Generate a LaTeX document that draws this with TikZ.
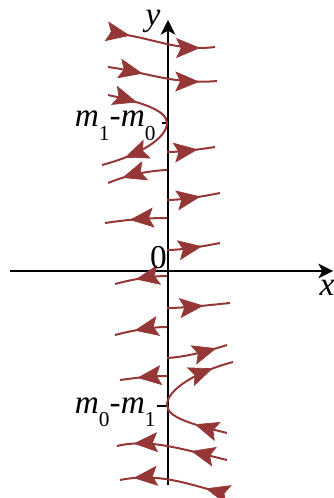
\documentclass[tikz,border=0pt]{standalone}
\usepackage{fontspec}
\setmainfont{Liberation Serif}
\usetikzlibrary{arrows.meta,decorations.markings}

\definecolor{flowred}{RGB}{150,55,55}
\tikzset{every picture/.style={line width=0.75pt}}
\tikzset{
  axistip/.tip={Stealth[length=11pt,width=11pt,inset=3pt]},
  flowline/.style={draw=flowred,fill=none,line width=1.5pt},
  arr/.style={postaction={decorate,decoration={markings,mark=at position #1 with {\arrow[flowred,line width=0.5pt]{Stealth[length=18pt,width=15pt,inset=3.5pt]}}}}},
  lbl/.style={inner sep=0pt,font=\fontsize{25}{28}\selectfont},
}
\newcommand{\sub}[1]{\raisebox{-10pt}{\fontsize{16}{18}\selectfont #1}}

\begin{document}
\begin{tikzpicture}[x=0.75pt,y=0.75pt,yscale=-1,xscale=1]
\path[use as bounding box] (0,0) rectangle (334,498);

%Straight Lines: axes
\coordinate (xs) at (10,271);
\coordinate (xe) at (333,271);
\coordinate (ys) at (168,485);
\coordinate (ye) at (168,20);
\draw [line width=1.1pt,-axistip] (xs) -- (xe);
\draw [line width=1.1pt,-axistip] (ys) -- (ye);
%Straight Lines: ticks
\draw [line width=0.8pt] (162,123) -- (168,123);
\draw [line width=0.8pt] (157,406) -- (168,406);

%Curve Lines: above m1-m0
\draw [flowline,arr=0.19,arr=0.86] (110,33) .. controls (150,36) and (175,52) .. (215,47);
\draw [flowline,arr=0.32,arr=0.84] (108,67) .. controls (145,72) and (175,85) .. (217,81);
%Curve Lines: turning at m1-m0
\draw [flowline,arr=0.2,arr=0.84] (108,95) .. controls (140,102) and (167,110) .. (167,123) .. controls (167,138) and (140,155) .. (102,165);
%Curve Lines: between the two turning points
\draw [flowline,arr=0.64] (167,152) .. controls (180,152) and (195,150) .. (215,147);
\draw [flowline,arr=0.75] (167,170) .. controls (145,171) and (125,176) .. (108,183);
\draw [flowline,arr=0.63] (167,200) .. controls (180,200) and (200,197) .. (220,193);
\draw [flowline,arr=0.6] (167,218) .. controls (145,218) and (125,220) .. (105,223);
\draw [flowline,arr=0.66] (167,250) .. controls (180,250) and (200,247) .. (220,243);
\draw [flowline,arr=0.6] (167,276) .. controls (150,276) and (130,280) .. (115,284);
\draw [flowline,arr=0.58] (167,308) .. controls (185,308) and (210,305) .. (230,303);
\draw [flowline,arr=0.62] (167,327) .. controls (150,327) and (130,331) .. (115,335);
\draw [flowline,arr=0.82] (167,358) .. controls (185,357) and (205,352) .. (227,345);
\draw [flowline,arr=0.63] (167,376) .. controls (150,376) and (135,378) .. (120,380);
%Curve Lines: turning at m0-m1
\draw [flowline,arr=0.22,arr=0.86] (227,433) .. controls (195,425) and (167,418) .. (167,405) .. controls (167,390) and (195,372) .. (233,362);
%Curve Lines: below m0-m1
\draw [flowline,arr=0.33,arr=0.85] (227,460) .. controls (185,450) and (150,438) .. (117,446);
\draw [flowline,arr=0.17,arr=0.87] (223,493) .. controls (190,485) and (160,472) .. (120,480);

% Text Node
\draw (153,26) node (ylbl) [lbl,anchor=base] {\textit{y}};
% Text Node
\draw (327,295) node (xlbl) [lbl,anchor=base] {\textit{x}};
% Text Node
\draw (158.5,268) node (olbl) [lbl,anchor=base] {0};
% Text Node
\draw (156,127) node (mtop) [lbl,anchor=base east] {\textit{m}\sub{1}-\textit{m}\sub{0}};
% Text Node
\draw (156,413) node (mbot) [lbl,anchor=base east] {\textit{m}\sub{0}-\textit{m}\sub{1}};

\end{tikzpicture}
\end{document}
